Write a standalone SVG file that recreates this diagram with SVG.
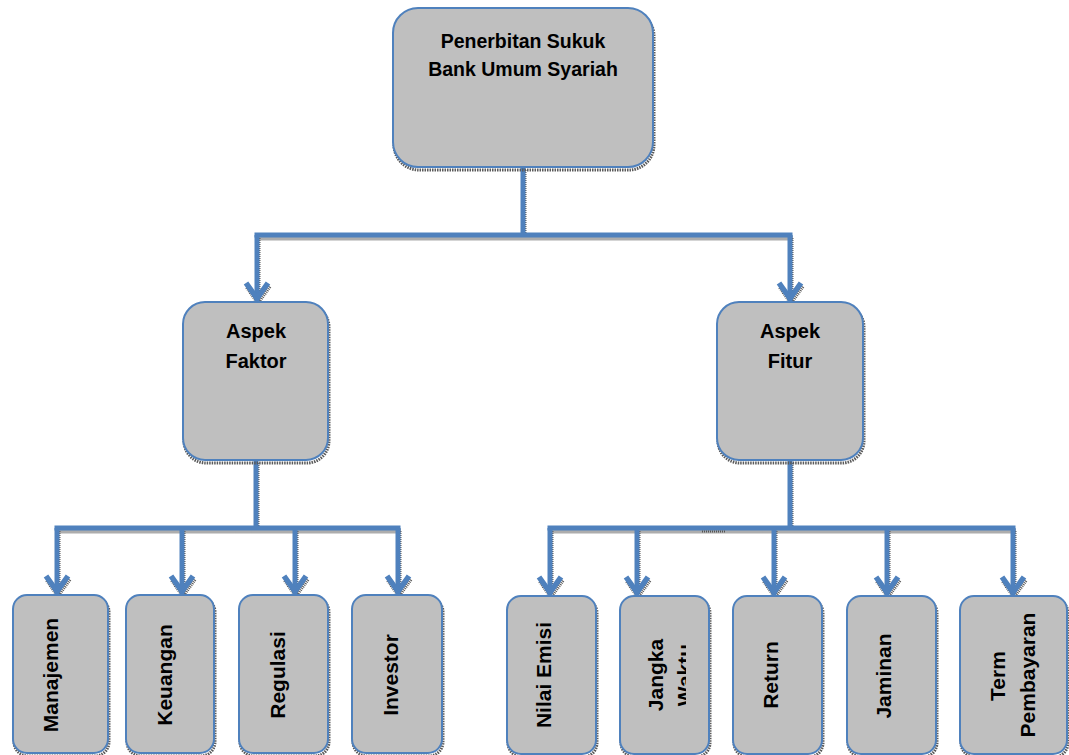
<svg xmlns="http://www.w3.org/2000/svg" width="1069" height="755" viewBox="0 0 1069 755">
<style>
.box{fill:#BFBFBF;stroke:#4F81BD;stroke-width:2}
.sh{fill:none;stroke:#5a5a5a;stroke-width:3;stroke-dasharray:1.5 1}
.ln{fill:none;stroke:#4F81BD;stroke-width:5;stroke-linecap:butt}
.lns{fill:none;stroke:#5a5a5a;stroke-width:5;stroke-dasharray:1 1}
.t{font-family:"Liberation Sans",Arial,sans-serif;font-weight:bold;fill:#000;text-anchor:middle}
.t1{font-size:19.5px}
.t2{font-size:20px}
.t3{font-size:21px}
</style>
<defs>
<marker id="ah" markerUnits="userSpaceOnUse" viewBox="-24 -16 28 32" markerWidth="28" markerHeight="32" refX="0" refY="0" orient="auto">
<path d="M-19,-11 L-3.5,0 L-19,11" fill="none" stroke="#4F81BD" stroke-width="5.5"/>
</marker>
<marker id="ahs" markerUnits="userSpaceOnUse" viewBox="-24 -16 28 32" markerWidth="28" markerHeight="32" refX="0" refY="0" orient="auto">
<path d="M-19,-11 L-3.5,0 L-19,11" fill="none" stroke="#5a5a5a" stroke-width="5.5" stroke-dasharray="1 1"/>
</marker>
<clipPath id="cw"><rect x="600" y="595" width="86" height="158"/></clipPath>
</defs>

<g id="connectors-shadow" transform="translate(1,3)">
<path class="lns" d="M523,167 V235 M254.5,235 H792.5 M256,460 V528 M54.5,528 H400.5 M790,460 V528 M547.5,528 H1015.5"/>
<path class="lns" marker-end="url(#ahs)" d="M257,235 V302"/>
<path class="lns" marker-end="url(#ahs)" d="M790,235 V302"/>
<path class="lns" marker-end="url(#ahs)" d="M57,528 V595"/>
<path class="lns" marker-end="url(#ahs)" d="M182,528 V595"/>
<path class="lns" marker-end="url(#ahs)" d="M295,528 V595"/>
<path class="lns" marker-end="url(#ahs)" d="M398,528 V595"/>
<path class="lns" marker-end="url(#ahs)" d="M550,528 V596"/>
<path class="lns" marker-end="url(#ahs)" d="M637,528 V596"/>
<path class="lns" marker-end="url(#ahs)" d="M774,528 V596"/>
<path class="lns" marker-end="url(#ahs)" d="M887,528 V596"/>
<path class="lns" marker-end="url(#ahs)" d="M1013,528 V596"/>
</g>

<g id="connectors">
<path class="ln" d="M523,167 V235 M254.5,235 H792.5 M256,460 V528 M54.5,528 H400.5 M790,460 V528 M547.5,528 H1015.5"/>
<path class="ln" marker-end="url(#ah)" d="M257,235 V302"/>
<path class="ln" marker-end="url(#ah)" d="M790,235 V302"/>
<path class="ln" marker-end="url(#ah)" d="M57,528 V595"/>
<path class="ln" marker-end="url(#ah)" d="M182,528 V595"/>
<path class="ln" marker-end="url(#ah)" d="M295,528 V595"/>
<path class="ln" marker-end="url(#ah)" d="M398,528 V595"/>
<path class="ln" marker-end="url(#ah)" d="M550,528 V596"/>
<path class="ln" marker-end="url(#ah)" d="M637,528 V596"/>
<path class="ln" marker-end="url(#ah)" d="M774,528 V596"/>
<path class="ln" marker-end="url(#ah)" d="M887,528 V596"/>
<path class="ln" marker-end="url(#ah)" d="M1013,528 V596"/>
<path d="M702,531.5 H725" stroke="#555" stroke-width="2" stroke-dasharray="1 1"/>
</g>

<g id="node-sukuk">
<rect class="sh" x="394" y="11" width="260" height="159" rx="25"/>
<rect class="box" x="393" y="8" width="260" height="159" rx="25"/>
<text class="t t1" x="523" y="48">Penerbitan Sukuk</text>
<text class="t t1" x="523" y="76">Bank Umum Syariah</text>
</g>

<g id="node-faktor">
<rect class="sh" x="184" y="305" width="145" height="158" rx="22"/>
<rect class="box" x="183" y="302" width="145" height="158" rx="22"/>
<text class="t t2" x="256" y="338">Aspek</text>
<text class="t t2" x="256" y="368">Faktor</text>
</g>

<g id="node-fitur">
<rect class="sh" x="718" y="305" width="146" height="158" rx="22"/>
<rect class="box" x="717" y="302" width="146" height="158" rx="22"/>
<text class="t t2" x="790" y="338">Aspek</text>
<text class="t t2" x="790" y="368">Fitur</text>
</g>

<g id="node-manajemen">
<rect class="sh" x="14" y="598" width="95" height="158" rx="14"/>
<rect class="box" x="13" y="595" width="95" height="158" rx="14"/>
<text class="t t3" x="58" y="675" transform="rotate(-90 58 675)">Manajemen</text>
</g>

<g id="node-keuangan">
<rect class="sh" x="127" y="598" width="88" height="158" rx="14"/>
<rect class="box" x="126" y="595" width="88" height="158" rx="14"/>
<text class="t t3" x="172" y="675" transform="rotate(-90 172 675)">Keuangan</text>
</g>

<g id="node-regulasi">
<rect class="sh" x="240" y="598" width="89" height="158" rx="14"/>
<rect class="box" x="239" y="595" width="89" height="158" rx="14"/>
<text class="t t3" x="285" y="675" transform="rotate(-90 285 675)">Regulasi</text>
</g>

<g id="node-investor">
<rect class="sh" x="353" y="598" width="90" height="158" rx="14"/>
<rect class="box" x="352" y="595" width="90" height="158" rx="14"/>
<text class="t t3" x="398" y="675" transform="rotate(-90 398 675)">Investor</text>
</g>

<g id="node-nilai-emisi">
<rect class="sh" x="508" y="599" width="89" height="158" rx="14"/>
<rect class="box" x="507" y="596" width="89" height="158" rx="14"/>
<text class="t t3" x="551" y="675" transform="rotate(-90 551 675)">Nilai Emisi</text>
</g>

<g id="node-jangka-waktu">
<rect class="sh" x="621" y="599" width="89" height="158" rx="14"/>
<rect class="box" x="620" y="596" width="89" height="158" rx="14"/>
<g clip-path="url(#cw)">
<text class="t t3" x="663" y="675" transform="rotate(-90 663 675)">Jangka</text>
<text class="t t3" x="692" y="675" transform="rotate(-90 692 675)">Waktu</text>
</g>
</g>

<g id="node-return">
<rect class="sh" x="734" y="599" width="89" height="158" rx="14"/>
<rect class="box" x="733" y="596" width="89" height="158" rx="14"/>
<text class="t t3" x="778" y="675" transform="rotate(-90 778 675)">Return</text>
</g>

<g id="node-jaminan">
<rect class="sh" x="848" y="599" width="89" height="158" rx="14"/>
<rect class="box" x="847" y="596" width="89" height="158" rx="14"/>
<text class="t t3" x="891" y="676" transform="rotate(-90 891 676)">Jaminan</text>
</g>

<g id="node-term">
<rect class="sh" x="961" y="599" width="107" height="158" rx="14"/>
<rect class="box" x="960" y="596" width="107" height="158" rx="14"/>
<text class="t t3" x="1005" y="676" transform="rotate(-90 1005 676)">Term</text>
<text class="t t3" x="1035" y="675" transform="rotate(-90 1035 675)">Pembayaran</text>
</g>
</svg>
